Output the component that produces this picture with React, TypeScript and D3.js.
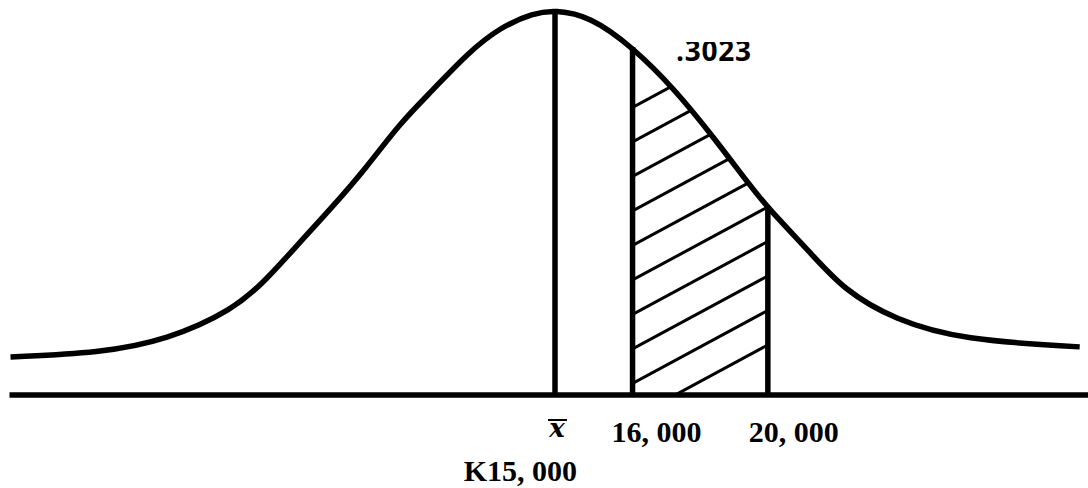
import React from "react";
import * as d3 from "d3";

// Curve: z (standardised position) and relative height (peak = 1)
const curveZ = [-3.3, -2.76, -2.35, -1.95, -1.75, -1.55, -1.35, -1.14, -0.94, -0.74, -0.53, -0.33, -0.13, 0, 0.21, 0.47, 0.73, 0.96, 1.18, 1.29, 1.55, 1.75, 2.06, 2.47, 3.18];
const curveH = [0.099, 0.109, 0.143, 0.221, 0.299, 0.395, 0.488, 0.592, 0.706, 0.792, 0.888, 0.956, 0.992, 1.0, 0.984, 0.904, 0.792, 0.67, 0.545, 0.486, 0.369, 0.273, 0.195, 0.143, 0.125];

// Marker lines
const markerZ = [0, 0.47, 1.29];
const markerH = [1.0, 0.904, 0.483];
const markerLabels = ["x", "16, 000", "20, 000"];
const meanLabel = "K15, 000";
const areaLabel = ".3023";

const W = 1088;
const H = 488;

export default function App() {
  const x = d3.scaleLinear().domain([0, 1]).range([555, 720]);
  const y = d3.scaleLinear().domain([0, 1]).range([395, 10]);
  const pts = curveZ.map((z, i) => [z, curveH[i]] as [number, number]);
  const curve = d3.curveBasis;
  const line = d3.line<[number, number]>().x((d) => x(d[0])).y((d) => y(d[1])).curve(curve);
  const area = d3
    .area<[number, number]>()
    .x((d) => x(d[0]))
    .y0(y(0))
    .y1((d) => y(d[1]))
    .curve(curve);

  const xL = x(markerZ[1]);
  const xR = x(markerZ[2]);
  const yBase = y(0);
  const spacing = 34.5;
  const slope = 0.54;
  const hatch = d3.range(10).map((k) => {
    const y0 = yBase + 23 - k * spacing;
    return { x1: xL, y1: y0, x2: xR, y2: y0 - slope * (xR - xL) };
  });

  const labelDx = [0, -21, -19];

  return (
    <svg width={W} height={H} style={{ position: "absolute", left: 0, top: 0, background: "#fff" }}>
      <defs>
        <clipPath id="under">
          <path d={area(pts) || ""} />
        </clipPath>
        <clipPath id="band">
          <rect x={xL} y={0} width={xR - xL} height={yBase} />
        </clipPath>
        <clipPath id="txt">
          <rect x={0} y={42} width={W} height={H} />
        </clipPath>
      </defs>

      <g clipPath="url(#under)">
        <g clipPath="url(#band)">
          {hatch.map((l, i) => (
            <line key={i} x1={l.x1} y1={l.y1} x2={l.x2} y2={l.y2} stroke="#000" strokeWidth={3} />
          ))}
        </g>
      </g>

      {markerZ.map((z, i) => (
        <line key={i} x1={x(z)} x2={x(z)} y1={yBase} y2={y(markerH[i])} stroke="#000" strokeWidth={5.5} />
      ))}

      <path d={line(pts) || ""} fill="none" stroke="#000" strokeWidth={5.5} strokeLinecap="butt" />

      <line x1={x(curveZ[0]) - 1} x2={W} y1={yBase} y2={yBase} stroke="#000" strokeWidth={5.5} />

      <text
        x={676}
        y={61}
        clipPath="url(#txt)"
        fontFamily="'Open Sans', Lato, sans-serif"
        fontWeight="bold"
        fontSize={28}
        textLength={75}
        fill="#000"
      >
        {areaLabel}
      </text>

      {/* x-bar */}
      <text
        x={x(markerZ[0]) + 2}
        y={437}
        textAnchor="middle"
        fontFamily="'DejaVu Serif', 'Liberation Serif', serif"
        fontStyle="italic"
        fontWeight="bold"
        fontSize={26}
        fill="#000"
      >
        {markerLabels[0]}
      </text>
      <line x1={x(markerZ[0]) - 7} x2={x(markerZ[0]) + 12} y1={420} y2={420} stroke="#000" strokeWidth={2} />

      {markerZ.slice(1).map((z, j) => (
        <text
          key={j}
          x={x(z) + labelDx[j + 1]}
          y={442}
          fontFamily="'Liberation Serif', serif"
          fontWeight="bold"
          fontSize={30}
          fill="#000"
        >
          {markerLabels[j + 1]}
        </text>
      ))}

      <text
        x={x(markerZ[0]) + 22}
        y={481}
        textAnchor="end"
        fontFamily="'Liberation Serif', serif"
        fontWeight="bold"
        fontSize={30}
        fill="#000"
      >
        {meanLabel}
      </text>
    </svg>
  );
}
